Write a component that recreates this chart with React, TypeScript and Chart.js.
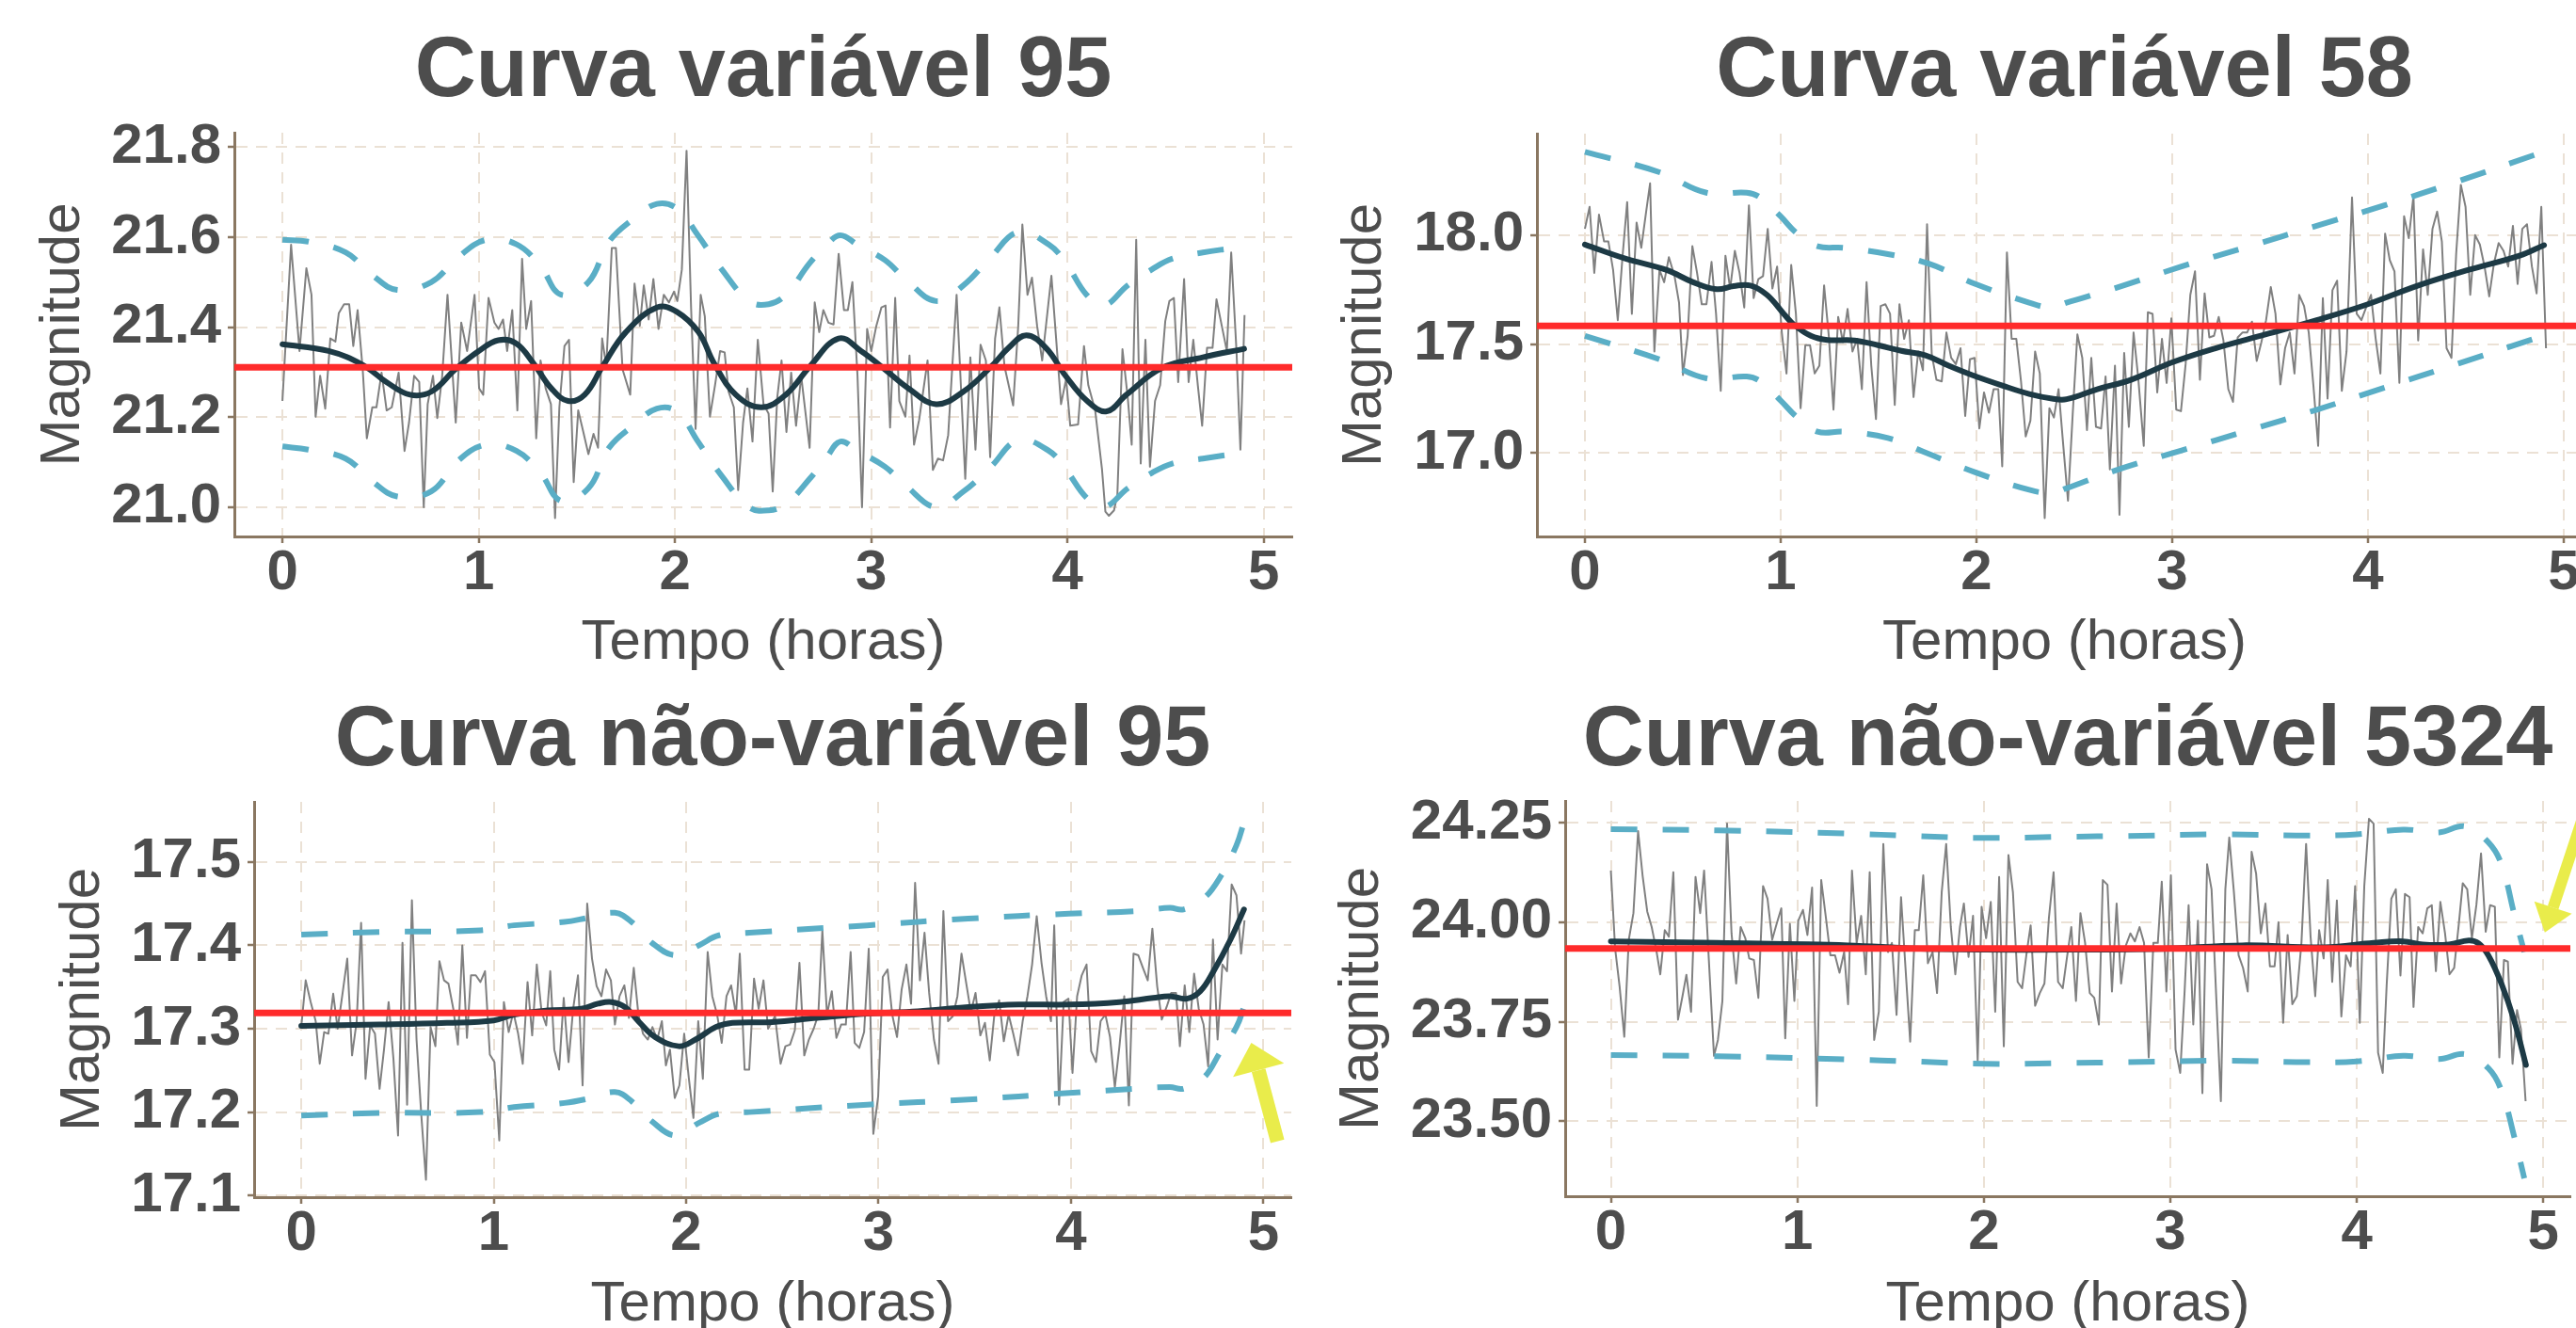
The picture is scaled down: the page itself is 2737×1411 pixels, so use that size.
import React, { useEffect, useRef } from "react";
import { Chart, registerables } from "chart.js";

Chart.register(...registerables);

// ---------------- DATA ----------------
const X_TICKS = [0, 1, 2, 3, 4, 5];

// Panel 1 — Curva variável 95
const p1Time = [0,0.044,0.087,0.122,0.148,0.169,0.192,0.218,0.244,0.27,0.287,0.314,0.34,0.361,0.383,0.409,0.43,0.458,0.479,0.505,0.531,0.557,0.592,0.622,0.645,0.671,0.697,0.72,0.74,0.767,0.789,0.814,0.841,0.883,0.911,0.941,0.979,1.002,1.023,1.05,1.08,1.101,1.124,1.145,1.171,1.197,1.221,1.242,1.267,1.293,1.315,1.341,1.368,1.389,1.411,1.437,1.46,1.484,1.507,1.533,1.559,1.585,1.608,1.629,1.65,1.678,1.699,1.733,1.772,1.794,1.821,1.841,1.866,1.89,1.916,1.943,1.969,1.995,2.012,2.035,2.059,2.082,2.105,2.131,2.152,2.178,2.204,2.23,2.253,2.273,2.3,2.322,2.347,2.369,2.395,2.422,
2.451,2.477,2.498,2.521,2.543,2.568,2.592,2.617,2.643,2.686,2.712,2.735,2.756,2.782,2.808,2.834,2.861,2.881,2.904,2.93,2.953,2.979,3.0,3.026,3.052,3.073,3.096,3.122,3.143,3.174,3.195,3.218,3.244,3.287,3.314,3.34,3.366,3.392,3.435,3.479,3.505,3.531,3.557,3.584,3.606,3.631,3.653,3.679,3.723,3.749,3.77,3.796,3.819,3.845,3.871,3.918,3.967,3.993,4.014,4.054,4.084,4.106,4.141,4.176,4.193,4.211,4.237,4.254,4.28,4.307,4.327,4.35,4.373,4.397,4.42,4.446,4.472,4.498,4.519,4.542,4.564,4.594,4.617,4.641,4.664,4.686,4.711,4.739,4.759,4.786,4.812,4.834,4.861,4.881,4.902];
const p1Mag = [21.236,21.583,21.347,21.531,21.472,21.201,21.292,21.219,21.375,21.368,21.431,21.451,21.451,21.358,21.438,21.306,21.153,21.222,21.222,21.299,21.215,21.222,21.299,21.125,21.188,21.292,21.278,21.0,21.229,21.292,21.198,21.292,21.472,21.188,21.41,21.347,21.472,21.264,21.25,21.465,21.41,21.396,21.417,21.347,21.438,21.215,21.552,21.396,21.458,21.153,21.326,21.264,21.229,20.976,21.222,21.358,21.372,21.056,21.215,21.167,21.118,21.163,21.132,21.375,21.313,21.576,21.576,21.306,21.25,21.497,21.403,21.493,21.417,21.507,21.396,21.472,21.455,21.479,21.458,21.528,21.792,21.444,21.174,21.472,21.424,21.201,21.271,21.347,21.344,21.257,21.222,21.038,21.188,21.264,21.146,21.372,
21.229,21.208,21.035,21.243,21.326,21.167,21.299,21.181,21.292,21.132,21.455,21.389,21.438,21.41,21.406,21.563,21.438,21.438,21.5,21.292,21.0,21.396,21.347,21.403,21.444,21.448,21.177,21.465,21.236,21.201,21.337,21.139,21.194,21.326,21.083,21.108,21.104,21.16,21.472,21.063,21.333,21.128,21.361,21.326,21.111,21.375,21.444,21.313,21.226,21.403,21.628,21.472,21.51,21.403,21.326,21.514,21.229,21.285,21.181,21.184,21.358,21.271,21.215,21.083,20.99,20.981,20.993,21.028,21.351,21.243,21.139,21.594,21.097,21.372,21.09,21.236,21.271,21.413,21.458,21.465,21.278,21.507,21.278,21.372,21.271,21.181,21.354,21.354,21.462,21.403,21.347,21.566,21.347,21.128,21.427];
const p1SmoothTime = [0,0.235,0.41,0.53,0.65,0.76,0.88,1.0,1.1,1.19,1.28,1.37,1.455,1.54,1.63,1.75,1.91,2.01,2.12,2.2,2.31,2.44,2.565,2.686,2.834,2.948,3.07,3.19,3.33,3.47,3.61,3.7,3.79,3.89,3.99,4.1,4.2,4.3,4.48,4.69,4.9];
const p1Smooth = [21.362,21.347,21.316,21.278,21.25,21.257,21.306,21.347,21.371,21.364,21.319,21.264,21.236,21.25,21.312,21.389,21.444,21.434,21.389,21.319,21.25,21.222,21.25,21.312,21.375,21.347,21.306,21.264,21.229,21.257,21.312,21.354,21.382,21.354,21.292,21.236,21.213,21.25,21.309,21.333,21.352];
const p1BandTime = [0,0.131,0.322,0.462,0.584,0.758,0.897,1.037,1.193,1.315,1.42,1.559,1.664,1.786,1.908,2.012,2.117,2.239,2.378,2.477,2.565,2.686,2.773,2.843,2.93,3.07,3.174,3.33,3.47,3.61,3.749,3.906,3.993,4.097,4.185,4.307,4.429,4.533,4.69,4.847,4.9];
const p1Upper = [21.594,21.59,21.566,21.514,21.483,21.5,21.556,21.594,21.584,21.535,21.472,21.5,21.59,21.64,21.674,21.663,21.604,21.528,21.458,21.451,21.472,21.542,21.583,21.604,21.583,21.549,21.507,21.458,21.493,21.556,21.611,21.583,21.542,21.472,21.448,21.493,21.528,21.552,21.566,21.576,21.58];
const p1Lower = [21.135,21.128,21.108,21.056,21.024,21.035,21.104,21.139,21.125,21.076,21.014,21.042,21.132,21.181,21.219,21.212,21.146,21.069,21.0,20.993,21.007,21.063,21.111,21.146,21.125,21.09,21.049,21.0,21.035,21.09,21.149,21.125,21.083,21.021,21.0,21.042,21.076,21.097,21.108,21.118,21.12];
const p1Ref = 21.311;
const p1YTicks = [21.0, 21.2, 21.4, 21.6, 21.8];

// Panel 2 — Curva variável 58
const p2Time = [0,0.024,0.048,0.072,0.098,0.12,0.144,0.168,0.192,0.216,0.24,0.264,0.288,0.312,0.333,0.355,0.381,0.405,0.429,0.458,0.481,0.501,0.525,0.549,0.573,0.597,0.621,0.647,0.67,0.694,0.718,0.742,0.766,0.79,0.814,0.838,0.862,0.886,0.91,0.934,0.958,0.982,1.006,1.03,1.054,1.078,1.102,1.126,1.15,1.174,1.198,1.222,1.246,1.27,1.294,1.318,1.342,1.367,1.391,1.415,1.439,1.463,1.487,1.511,1.535,1.559,1.583,1.607,1.631,1.655,1.679,1.703,1.727,1.748,1.772,1.796,1.823,1.847,1.871,1.895,1.919,1.943,1.967,1.991,2.015,2.039,2.064,2.088,2.112,2.132,2.156,2.18,2.204,2.228,2.252,2.276,2.3,2.324,2.349,2.373,
2.396,2.42,2.444,2.468,2.492,2.516,2.541,2.565,2.587,2.611,2.637,2.66,2.682,2.708,2.731,2.755,2.779,2.803,2.827,2.855,2.876,2.9,2.924,2.948,2.972,2.996,3.021,3.045,3.069,3.093,3.117,3.142,3.166,3.19,3.214,3.238,3.262,3.287,3.311,3.335,3.359,3.383,3.408,3.432,3.456,3.48,3.504,3.528,3.553,3.577,3.601,3.625,3.649,3.674,3.698,3.722,3.746,3.77,3.794,3.819,3.843,3.867,3.891,3.919,3.943,3.967,3.991,4.016,4.04,4.064,4.088,4.112,4.136,4.161,4.185,4.209,4.233,4.257,4.282,4.306,4.33,4.354,4.378,4.402,4.427,4.451,4.475,4.499,4.523,4.548,4.572,4.596,4.62,4.644,4.668,4.693,4.717,4.741,4.765,4.789,4.813,4.838,4.862,4.886,4.91];
const p2Mag = [18.029,18.13,17.827,18.094,17.971,17.971,17.841,17.61,17.899,18.152,17.639,18.058,17.942,18.101,18.238,17.466,17.841,17.784,17.899,17.812,17.69,17.358,17.538,17.95,17.827,17.683,17.683,17.877,17.639,17.286,17.906,17.755,17.928,17.827,17.668,18.137,17.711,17.798,17.812,18.029,17.755,17.856,17.553,17.365,17.863,17.639,17.206,17.495,17.495,17.365,17.401,17.769,17.538,17.199,17.625,17.509,17.661,17.466,17.524,17.293,17.784,17.401,17.156,17.675,17.683,17.639,17.221,17.683,17.524,17.61,17.257,17.466,17.38,18.05,17.452,17.336,17.329,17.553,17.437,17.408,17.481,17.17,17.43,17.437,17.113,17.278,17.185,17.293,17.293,16.939,17.921,17.524,17.524,17.329,17.076,17.149,17.466,17.365,16.701,17.206,
17.163,17.293,17.033,16.781,17.177,17.545,17.437,17.105,17.437,17.12,17.113,17.351,16.925,17.401,16.716,17.459,17.12,17.553,17.343,17.033,17.646,17.639,17.278,17.524,17.322,17.618,17.199,17.192,17.408,17.726,17.834,17.336,17.733,17.531,17.538,17.625,17.517,17.293,17.235,17.531,17.553,17.553,17.603,17.423,17.509,17.61,17.762,17.639,17.315,17.481,17.553,17.365,17.726,17.675,17.553,17.307,17.033,17.711,17.25,17.747,17.791,17.286,17.466,18.173,17.639,17.61,17.668,17.726,17.524,17.365,18.007,17.885,17.834,17.322,18.087,17.986,18.18,17.517,17.935,17.726,18.029,18.108,17.971,17.481,17.437,17.913,18.231,18.13,17.726,18.0,17.957,17.856,17.719,17.87,17.964,17.928,17.856,18.043,17.776,18.029,18.05,17.856,17.733,18.13,17.481];
const p2SmoothTime = [0,0.209,0.415,0.553,0.673,0.759,0.845,0.93,1.016,1.068,1.154,1.239,1.377,1.497,1.617,1.737,1.858,1.978,2.132,2.27,2.386,2.461,2.617,2.789,3.0,3.221,3.48,3.739,4.0,4.257,4.516,4.775,4.9];
const p2Smooth = [17.957,17.892,17.841,17.784,17.752,17.766,17.769,17.726,17.639,17.589,17.538,17.519,17.517,17.495,17.469,17.449,17.401,17.358,17.31,17.271,17.25,17.247,17.293,17.336,17.416,17.481,17.545,17.61,17.683,17.769,17.841,17.906,17.954];
const p2BandTime = [0,0.381,0.621,0.827,0.896,0.999,1.085,1.188,1.325,1.548,1.754,1.995,2.27,2.386,2.46,2.703,3.048,3.394,3.739,4.085,4.43,4.896];
const p2Upper = [18.382,18.289,18.195,18.195,18.173,18.087,18.007,17.949,17.942,17.913,17.87,17.776,17.69,17.668,17.69,17.755,17.856,17.949,18.043,18.137,18.238,18.382];
const p2Lower = [17.538,17.43,17.343,17.351,17.329,17.242,17.163,17.098,17.098,17.069,16.997,16.911,16.831,16.817,16.838,16.918,17.012,17.105,17.199,17.3,17.401,17.538];
const p2Ref = 17.584;
const p2YTicks = [17.0, 17.5, 18.0];

// Panel 3 — Curva não-variável 95
const p3Time = [0,0.023,0.049,0.075,0.096,0.119,0.141,0.166,0.189,0.215,0.239,0.264,0.288,0.311,0.334,0.358,0.383,0.407,0.43,0.454,0.479,0.503,0.526,0.55,0.575,0.599,0.624,0.648,0.672,0.697,0.718,0.742,0.765,0.79,0.814,0.837,0.861,0.882,0.907,0.931,0.955,0.98,1.004,1.029,1.053,1.078,1.102,1.127,1.151,1.176,1.2,1.224,1.249,1.273,1.294,1.315,1.34,1.364,1.389,1.413,1.438,1.462,1.486,1.511,1.535,1.56,1.584,1.609,1.63,1.654,1.679,1.703,1.728,1.752,1.776,1.801,1.825,1.85,1.874,1.895,1.916,1.941,1.965,1.99,2.014,2.038,2.063,2.087,2.112,2.136,2.161,2.185,2.21,2.234,2.259,2.279,2.304,2.328,2.353,2.377,2.402,2.426,
2.462,2.491,2.516,2.54,2.565,2.589,2.614,2.638,2.663,2.687,2.708,2.732,2.757,2.781,2.806,2.83,2.855,2.876,2.9,2.925,2.949,2.973,2.998,3.022,3.047,3.071,3.096,3.12,3.145,3.169,3.19,3.215,3.239,3.263,3.288,3.312,3.337,3.361,3.386,3.41,3.431,3.456,3.48,3.504,3.529,3.553,3.578,3.602,3.627,3.651,3.676,3.7,3.725,3.749,3.774,3.798,3.822,3.847,3.871,3.896,3.913,3.938,3.962,3.987,4.008,4.032,4.056,4.081,4.105,4.13,4.154,4.179,4.203,4.228,4.252,4.277,4.301,4.325,4.35,4.374,4.399,4.423,4.448,4.472,4.497,4.521,4.546,4.566,4.591,4.615,4.64,4.664,4.689,4.713,4.738,4.762,4.787,4.811,4.835,4.86,4.884,4.902];
const p3Mag = [17.302,17.358,17.332,17.309,17.258,17.296,17.294,17.342,17.3,17.343,17.384,17.268,17.309,17.427,17.24,17.304,17.294,17.228,17.275,17.332,17.264,17.172,17.403,17.209,17.454,17.287,17.196,17.119,17.302,17.279,17.381,17.358,17.354,17.324,17.281,17.4,17.289,17.364,17.364,17.356,17.369,17.269,17.26,17.166,17.332,17.296,17.32,17.294,17.258,17.356,17.292,17.377,17.32,17.304,17.369,17.275,17.251,17.337,17.26,17.324,17.364,17.232,17.45,17.384,17.351,17.339,17.371,17.358,17.305,17.339,17.352,17.313,17.373,17.317,17.294,17.287,17.302,17.287,17.309,17.256,17.275,17.217,17.232,17.294,17.241,17.193,17.309,17.24,17.392,17.339,17.317,17.283,17.339,17.352,17.317,17.39,17.251,17.251,17.36,17.324,17.358,17.3,
17.315,17.258,17.279,17.281,17.298,17.379,17.268,17.287,17.3,17.317,17.418,17.317,17.345,17.289,17.305,17.305,17.392,17.283,17.277,17.296,17.396,17.174,17.219,17.362,17.371,17.317,17.29,17.347,17.377,17.33,17.475,17.358,17.415,17.343,17.287,17.258,17.441,17.309,17.315,17.339,17.39,17.354,17.32,17.343,17.292,17.307,17.262,17.317,17.334,17.285,17.317,17.294,17.268,17.309,17.339,17.377,17.435,17.379,17.339,17.309,17.424,17.209,17.332,17.336,17.247,17.339,17.364,17.377,17.273,17.26,17.309,17.317,17.29,17.23,17.279,17.339,17.208,17.39,17.388,17.373,17.358,17.42,17.351,17.311,17.326,17.343,17.343,17.279,17.352,17.296,17.366,17.324,17.305,17.255,17.407,17.287,17.377,17.369,17.473,17.46,17.39,17.43];
const p3SmoothTime = [0,0.407,0.756,1.0,1.106,1.28,1.455,1.542,1.612,1.682,1.752,1.839,1.962,2.049,2.154,2.241,2.447,2.68,2.942,3.204,3.466,3.728,3.99,4.252,4.427,4.514,4.602,4.672,4.741,4.829,4.899];
const p3Smooth = [17.3035,17.305,17.307,17.31,17.317,17.322,17.324,17.33,17.332,17.326,17.309,17.29,17.279,17.287,17.302,17.307,17.308,17.313,17.318,17.321,17.326,17.329,17.329,17.332,17.337,17.339,17.336,17.345,17.369,17.407,17.443];
const p3BandTime = [0,0.407,0.931,1.106,1.368,1.49,1.63,1.717,1.822,1.944,2.066,2.171,2.328,2.942,3.466,3.99,4.34,4.514,4.584,4.689,4.776,4.86,4.902];
const p3Upper = [17.413,17.416,17.418,17.424,17.428,17.433,17.439,17.428,17.403,17.388,17.4,17.412,17.415,17.424,17.432,17.438,17.441,17.445,17.443,17.456,17.482,17.52,17.55];
const p3Lower = [17.196,17.199,17.2,17.206,17.211,17.216,17.224,17.213,17.189,17.172,17.187,17.198,17.2,17.209,17.215,17.223,17.228,17.23,17.228,17.241,17.272,17.302,17.328];
const p3Ref = 17.319;
const p3YTicks = [17.1, 17.2, 17.3, 17.4, 17.5];
const p3ArrowTail = [5.073, 17.165];
const p3ArrowTip = [4.937, 17.283];

// Panel 4 — Curva não-variável 5324
const p4Time = [0,0.023,0.047,0.072,0.096,0.121,0.146,0.17,0.195,0.219,0.244,0.265,0.289,0.311,0.335,0.36,0.384,0.405,0.43,0.454,0.479,0.5,0.525,0.553,0.574,0.598,0.623,0.647,0.672,0.696,0.721,0.742,0.767,0.791,0.816,0.84,0.865,0.889,0.914,0.935,0.96,0.984,1.005,1.03,1.054,1.079,1.104,1.128,1.153,1.177,1.202,1.226,1.251,1.272,1.293,1.318,1.342,1.367,1.388,1.412,1.437,1.461,1.486,1.507,1.532,1.556,1.581,1.605,1.63,1.651,1.675,1.7,1.725,1.749,1.774,1.798,1.823,1.847,1.872,1.893,1.918,1.942,1.967,1.988,2.012,2.037,2.061,2.082,2.107,2.132,2.156,2.181,2.205,2.23,2.251,2.275,2.3,2.325,2.349,2.374,2.398,2.423,
2.445,2.469,2.494,2.518,2.543,2.568,2.592,2.617,2.638,2.663,2.687,2.712,2.736,2.761,2.786,2.81,2.835,2.859,2.884,2.909,2.933,2.954,2.979,3.003,3.028,3.053,3.077,3.098,3.123,3.148,3.172,3.197,3.221,3.246,3.271,3.295,3.316,3.341,3.366,3.39,3.415,3.436,3.46,3.485,3.51,3.534,3.559,3.58,3.605,3.629,3.654,3.678,3.703,3.728,3.752,3.777,3.798,3.822,3.844,3.868,3.893,3.917,3.942,3.967,3.991,4.016,4.04,4.065,4.09,4.114,4.139,4.16,4.185,4.209,4.234,4.258,4.283,4.304,4.329,4.353,4.378,4.402,4.424,4.448,4.473,4.497,4.522,4.547,4.568,4.592,4.617,4.641,4.666,4.691,4.715,4.74,4.764,4.789,4.81,4.835,4.859,4.88,4.905];
const p4Mag = [24.13,23.933,23.838,23.712,23.956,24.023,24.229,24.118,24.027,23.988,23.929,23.869,23.98,23.964,24.126,23.755,23.814,23.868,23.775,24.114,24.023,24.13,23.909,23.664,23.704,23.802,24.248,23.972,23.846,23.988,23.96,23.909,23.905,23.81,24.091,24.059,23.956,23.996,24.035,23.708,23.996,23.802,24.004,24.031,23.968,24.087,23.538,24.106,24.012,23.917,23.917,23.873,23.925,23.794,24.13,23.948,24.016,23.869,24.126,23.704,23.775,24.197,23.925,23.948,23.767,24.063,23.877,23.7,23.98,23.98,24.118,23.897,23.925,23.822,24.075,24.197,23.988,23.869,23.988,24.047,23.913,24.016,23.652,24.039,23.96,24.051,23.775,24.114,23.688,24.169,24.075,23.85,23.834,23.925,23.992,23.79,23.822,23.846,24.012,24.126,23.85,23.834,
23.909,23.988,23.802,24.023,23.948,23.822,23.81,23.743,24.106,24.094,23.826,24.047,23.846,23.941,23.972,23.952,23.988,23.948,23.66,23.948,23.948,24.102,23.826,24.118,23.68,23.621,23.83,24.043,23.743,24.004,23.57,24.146,24.083,23.814,23.55,24.083,24.213,24.075,23.917,23.885,23.826,24.177,24.122,23.972,24.047,23.889,23.889,24.0,23.747,23.968,23.794,23.814,23.948,24.197,23.964,23.814,23.98,23.909,24.106,23.85,24.055,23.763,23.917,23.889,24.091,23.747,24.091,24.26,24.248,23.672,23.621,23.842,24.059,24.083,23.866,24.071,24.063,23.787,23.988,23.972,24.035,24.043,23.877,24.051,23.972,23.869,23.885,23.996,24.098,24.083,23.96,24.043,24.173,23.976,24.043,24.039,23.66,23.905,23.901,23.644,23.779,23.731,23.55];
const p4SmoothTime = [0,0.57,1.272,1.623,2.0,2.444,2.947,3.387,3.826,4.09,4.248,4.353,4.494,4.6,4.652,4.705,4.775,4.845,4.907];
const p4Smooth = [23.952,23.948,23.942,23.934,23.931,23.931,23.933,23.942,23.937,23.948,23.952,23.944,23.944,23.954,23.947,23.917,23.846,23.751,23.641];
const p4BandTime = [0,0.57,1.272,1.623,2.0,2.444,2.772,3.299,3.738,4.0,4.248,4.441,4.582,4.705,4.775,4.845,4.898];
const p4Upper = [24.234,24.231,24.223,24.217,24.212,24.215,24.217,24.221,24.218,24.221,24.233,24.226,24.241,24.201,24.146,24.019,23.925];
const p4Lower = [23.666,23.663,23.655,23.65,23.644,23.646,23.648,23.652,23.648,23.65,23.664,23.656,23.668,23.633,23.577,23.459,23.356];
const p4Ref = 23.934;
const p4YTicks = [23.5, 23.75, 24.0, 24.25];
const p4ArrowTail = [5.294, 24.38];
const p4ArrowTip = [5.008, 23.974];

// ---------------- STYLE / LAYOUT ----------------
const FONT = "'Liberation Sans', Arial, Helvetica, sans-serif";
const TEXT = "#4d4d4d";
const AXIS = "#8a7761";
const GRID = "#ebe1d5";
const RAW = "#808080";
const SMOOTH = "#1d3a45";
const BAND = "#5aaec6";
const REF = "#ff2b2b";
const ARROW = "#e9ec4b";

type Arrow = { tail: number[]; tip: number[]; shaft: number; headLen: number; headW: number };
type Panel = {
  title: string;
  t: number[]; v: number[];
  st: number[]; sv: number[];
  bt: number[]; up: number[]; lo: number[];
  ref: number;
  yMin: number; yMax: number; yTicks: number[]; yDec: number;
  arrow?: Arrow;
  left: number; top: number; width: number; height: number;
  yAxisW: number; xAxisH: number; titleTop: number; titleBottom: number; yTitlePad: number; xTitlePad: number;
};

const PANELS: Panel[] = [
  { title: "Curva variável 95", t: p1Time, v: p1Mag, st: p1SmoothTime, sv: p1Smooth, bt: p1BandTime, up: p1Upper, lo: p1Lower,
    ref: p1Ref, yMin: 20.935, yMax: 21.832, yTicks: p1YTicks, yDec: 1,
    left: 0, top: 0, width: 1403, height: 730, yAxisW: 249, xAxisH: 160, titleTop: 23, titleBottom: 10, yTitlePad: 31, xTitlePad: 11 },
  { title: "Curva variável 58", t: p2Time, v: p2Mag, st: p2SmoothTime, sv: p2Smooth, bt: p2BandTime, up: p2Upper, lo: p2Lower,
    ref: p2Ref, yMin: 16.617, yMax: 18.466, yTicks: p2YTicks, yDec: 1,
    left: 1380, top: 0, width: 1404, height: 730, yAxisW: 253, xAxisH: 160, titleTop: 23, titleBottom: 11, yTitlePad: 34, xTitlePad: 11 },
  { title: "Curva não-variável 95", t: p3Time, v: p3Mag, st: p3SmoothTime, sv: p3Smooth, bt: p3BandTime, up: p3Upper, lo: p3Lower,
    ref: p3Ref, yMin: 17.098, yMax: 17.572, yTicks: p3YTicks, yDec: 1,
    arrow: { tail: p3ArrowTail, tip: p3ArrowTip, shaft: 15, headLen: 30, headW: 56 },
    left: 0, top: 700, width: 1402, height: 730, yAxisW: 270, xAxisH: 158, titleTop: 34, titleBottom: 10, yTitlePad: 52, xTitlePad: 8 },
  { title: "Curva não-variável 5324", t: p4Time, v: p4Mag, st: p4SmoothTime, sv: p4Smooth, bt: p4BandTime, up: p4Upper, lo: p4Lower,
    ref: p4Ref, yMin: 23.311, yMax: 24.305, yTicks: p4YTicks, yDec: 2,
    arrow: { tail: p4ArrowTail, tip: p4ArrowTip, shaft: 12, headLen: 28, headW: 42 },
    left: 1380, top: 700, width: 1381, height: 730, yAxisW: 283, xAxisH: 159, titleTop: 34, titleBottom: 9, yTitlePad: 31, xTitlePad: 8 },
];

const zip = (t: number[], v: number[]) => t.map((x, i) => ({ x, y: v[i] }));

function overlayPlugin(p: Panel) {
  return {
    id: "overlay",
    afterDatasetsDraw(chart: any) {
      const { ctx, chartArea, scales } = chart;
      const ys = scales.y, xs = scales.x;
      ctx.save();
      const y = ys.getPixelForValue(p.ref);
      ctx.strokeStyle = REF;
      ctx.lineWidth = 7;
      ctx.beginPath();
      ctx.moveTo(chartArea.left, y);
      ctx.lineTo(chartArea.right, y);
      ctx.stroke();
      if (p.arrow) {
        const a = p.arrow;
        const tx = xs.getPixelForValue(a.tail[0]), ty = ys.getPixelForValue(a.tail[1]);
        const hx = xs.getPixelForValue(a.tip[0]), hy = ys.getPixelForValue(a.tip[1]);
        const dx = hx - tx, dy = hy - ty;
        const len = Math.hypot(dx, dy);
        const ux = dx / len, uy = dy / len;
        const px = -uy, py = ux;
        const bx = hx - ux * a.headLen, by = hy - uy * a.headLen;
        ctx.fillStyle = ARROW;
        ctx.beginPath();
        ctx.moveTo(tx + px * a.shaft / 2, ty + py * a.shaft / 2);
        ctx.lineTo(bx + px * a.shaft / 2, by + py * a.shaft / 2);
        ctx.lineTo(bx - px * a.shaft / 2, by - py * a.shaft / 2);
        ctx.lineTo(tx - px * a.shaft / 2, ty - py * a.shaft / 2);
        ctx.closePath();
        ctx.fill();
        ctx.beginPath();
        ctx.moveTo(hx, hy);
        ctx.lineTo(bx + px * a.headW / 2, by + py * a.headW / 2);
        ctx.lineTo(bx - px * a.headW / 2, by - py * a.headW / 2);
        ctx.closePath();
        ctx.fill();
      }
      ctx.restore();
    },
  };
}

function PanelChart({ p }: { p: Panel }) {
  const ref = useRef<HTMLCanvasElement | null>(null);
  useEffect(() => {
    if (!ref.current) return;
    const tickFont = { family: FONT, size: 60, weight: "bold" as const, lineHeight: 1 };
    const titleFont = { family: FONT, size: 60, weight: "normal" as const, lineHeight: 1.2 };
    const gridOpts = { color: GRID, lineWidth: 2, drawTicks: true, tickLength: 7, tickWidth: 2.5, tickColor: AXIS };
    const borderOpts = { display: true, color: AXIS, width: 3, dash: [12, 9] };
    const chart = new Chart(ref.current, {
      type: "line",
      data: {
        datasets: [
          { data: zip(p.st, p.sv), borderColor: SMOOTH, borderWidth: 6, tension: 0.4, pointRadius: 0, order: 1, borderCapStyle: "round", borderJoinStyle: "round" },
          { data: zip(p.bt, p.up), borderColor: BAND, borderWidth: 6, borderDash: [28, 27], tension: 0.4, pointRadius: 0, order: 2 },
          { data: zip(p.bt, p.lo), borderColor: BAND, borderWidth: 6, borderDash: [28, 27], tension: 0.4, pointRadius: 0, order: 2 },
          { data: zip(p.t, p.v), borderColor: RAW, borderWidth: 2, tension: 0, pointRadius: 0, order: 3, borderJoinStyle: "round" },
        ],
      } as any,
      options: {
        animation: false,
        responsive: false,
        devicePixelRatio: 1,
        events: [],
        layout: { padding: { left: 0, right: 30, top: 0, bottom: 0 } },
        plugins: {
          legend: { display: false },
          tooltip: { enabled: false },
          title: {
            display: true,
            text: p.title,
            color: TEXT,
            fullSize: false,
            font: { family: FONT, size: 90, weight: "bold", lineHeight: 1.2 },
            padding: { top: p.titleTop, bottom: p.titleBottom },
          },
        },
        scales: {
          x: {
            type: "linear",
            min: -0.245,
            max: 5.145,
            afterBuildTicks: (s: any) => { s.ticks = X_TICKS.map((value) => ({ value })); },
            afterFit: (s: any) => { s.height = p.xAxisH; },
            ticks: { color: TEXT, font: tickFont, padding: 2, autoSkip: false, maxRotation: 0, minRotation: 0, callback: (v: any) => String(v) },
            grid: gridOpts,
            border: borderOpts,
            title: { display: true, text: "Tempo (horas)", color: TEXT, font: titleFont, padding: { top: 0, bottom: p.xTitlePad } },
          },
          y: {
            type: "linear",
            min: p.yMin,
            max: p.yMax,
            afterBuildTicks: (s: any) => { s.ticks = p.yTicks.map((value) => ({ value })); },
            afterFit: (s: any) => { s.width = p.yAxisW; },
            ticks: { color: TEXT, font: tickFont, padding: 7, autoSkip: false, callback: (v: any) => Number(v).toFixed(p.yDec) },
            grid: gridOpts,
            border: borderOpts,
            title: { display: true, text: "Magnitude", color: TEXT, font: titleFont, padding: { top: p.yTitlePad, bottom: 0 } },
          },
        },
      } as any,
      plugins: [overlayPlugin(p)],
    });
    return () => chart.destroy();
  }, [p]);
  return (
    <canvas
      ref={ref}
      width={p.width}
      height={p.height}
      style={{ position: "absolute", left: p.left, top: p.top, width: p.width, height: p.height }}
    />
  );
}

export default function App() {
  return (
    <div style={{ position: "fixed", left: 0, top: 0, width: 2737, height: 1411, overflow: "hidden", background: "#ffffff" }}>
      {PANELS.map((p, i) => (
        <PanelChart key={i} p={p} />
      ))}
    </div>
  );
}
